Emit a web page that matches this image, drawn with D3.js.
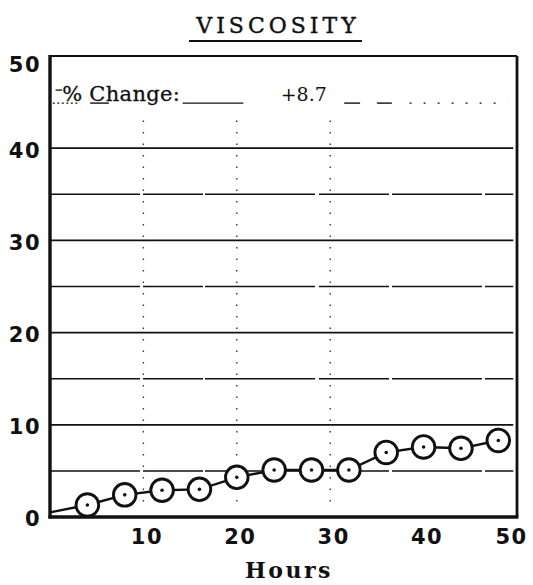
<!DOCTYPE html>
<html>
<head>
<meta charset="utf-8">
<script src="https://cdn.jsdelivr.net/npm/d3@7/dist/d3.min.js"></script>
<style>
  html, body { margin: 0; padding: 0; background: #fff; }
  svg { display: block; }
</style>
</head>
<body>
<div id="chart"></div>
<script>
// Viscosity measurements over the test period
const hours     = [0, 4, 8, 12, 16, 20, 24, 28, 32, 36, 40, 44, 48];
const viscosity = [0.5, 1.3, 2.4, 2.9, 3.0, 4.3, 5.1, 5.1, 5.1, 7.0, 7.6, 7.45, 8.3];
const markedFrom = 1;               // the first reading is the origin, unmarked
const xTicks = [10, 20, 30, 40, 50];
const yTicks = [0, 10, 20, 30, 40, 50];
const gridMajor = [10, 20, 30, 40];
const gridMinor = [5, 15, 25, 35];
const gridDotted = [10, 20, 30];
const titleText = "VISCOSITY";
const xLabel = "Hours";
const changeLabel = "% Change:";
const changeValue = "+8.7";

const W = 533, H = 585;
const svg = d3.select("#chart").append("svg")
  .attr("width", W).attr("height", H);

const x = d3.scaleLinear().domain([0, 50]).range([50, 517]);
const y = d3.scaleLinear().domain([0, 50]).range([517, 56]);

const ink = "#111";
const serif = "'DejaVu Serif', serif";
const sans = "'DejaVu Sans', sans-serif";

// Title with underline
svg.append("text")
  .attr("x", 278).attr("y", 33)
  .attr("text-anchor", "middle")
  .attr("font-family", serif)
  .attr("font-size", 22)
  .attr("letter-spacing", 4)
  .attr("stroke", ink).attr("stroke-width", 0.4)
  .attr("fill", ink)
  .text(titleText);
svg.append("line")
  .attr("x1", 189).attr("x2", 362)
  .attr("y1", 41).attr("y2", 41)
  .attr("stroke", ink).attr("stroke-width", 2);

// Dotted vertical guides
svg.append("g").selectAll("line").data(gridDotted).join("line")
  .attr("x1", d => x(d)).attr("x2", d => x(d))
  .attr("y1", y(43)).attr("y2", y(1.5))
  .attr("stroke", "#333").attr("stroke-width", 1.4)
  .attr("stroke-dasharray", "1.5,10");

// Horizontal grid lines
svg.append("g").selectAll("line").data(gridMajor).join("line")
  .attr("x1", x(0)).attr("x2", x(49.6))
  .attr("y1", d => y(d)).attr("y2", d => y(d))
  .attr("stroke", ink).attr("stroke-width", 1.7);
svg.append("g").selectAll("line").data(gridMinor).join("line")
  .attr("x1", x(0)).attr("x2", x(49.6))
  .attr("y1", d => y(d)).attr("y2", d => y(d))
  .attr("stroke", ink).attr("stroke-width", 1.5)
  .attr("stroke-dasharray", "90,3,60,2,110,4,70,3");

// The 45 line carries the change annotation
const y45 = y(45) + 1;
const seg = (a, b, dash, w) => svg.append("line")
  .attr("x1", x(a)).attr("x2", x(b))
  .attr("y1", y45).attr("y2", y45)
  .attr("stroke", ink).attr("stroke-width", w || 1.4)
  .attr("stroke-dasharray", dash || null);
seg(0.3, 3.2, "2,2.5", 1.2);
seg(4.3, 6.3);
seg(14.2, 20.7);
seg(31.5, 33.2);
seg(35.0, 36.6);
seg(38.5, 49.0, "2,12", 1.2);
svg.append("line")
  .attr("x1", x(0.6)).attr("x2", x(1.3))
  .attr("y1", y(46.3)).attr("y2", y(46.3))
  .attr("stroke", ink).attr("stroke-width", 1.3);
svg.append("text")
  .attr("x", x(1.3)).attr("y", y(45) - 1)
  .attr("font-family", serif)
  .attr("font-size", 21)
  .attr("letter-spacing", 0.3)
  .attr("stroke", ink).attr("stroke-width", 0.3)
  .attr("fill", ink)
  .text(changeLabel);
svg.append("text")
  .attr("x", x(24.7)).attr("y", y(45) - 1)
  .attr("font-family", serif)
  .attr("font-size", 19)
  .attr("fill", ink)
  .text(changeValue);

// Data line and markers
const pts = hours.map((h, i) => ({ h, v: viscosity[i] }));
svg.append("path")
  .datum(pts)
  .attr("fill", "none")
  .attr("stroke", ink)
  .attr("stroke-width", 2.4)
  .attr("d", d3.line().x(d => x(d.h)).y(d => y(d.v)));

const marks = svg.append("g").selectAll("g").data(pts.slice(markedFrom)).join("g")
  .attr("transform", d => `translate(${x(d.h)},${y(d.v)})`);
marks.append("circle").attr("r", 11.3)
  .attr("fill", "#fff").attr("stroke", ink).attr("stroke-width", 2.9);
marks.append("circle").attr("r", 1.8).attr("fill", ink);

// Frame: heavier on the left and bottom
const frame = svg.append("g").attr("stroke", ink).attr("fill", "none");
frame.append("line").attr("x1", x(0)).attr("x2", x(50)).attr("y1", y(50)).attr("y2", y(50)).attr("stroke-width", 2.2);
frame.append("line").attr("x1", x(50)).attr("x2", x(50)).attr("y1", y(50)).attr("y2", y(0)).attr("stroke-width", 2.8);
frame.append("line").attr("x1", x(0)).attr("x2", x(0)).attr("y1", y(50) - 1).attr("y2", y(0) + 1.5).attr("stroke-width", 3.4);
frame.append("line").attr("x1", x(0) - 1.5).attr("x2", x(50) + 1.4).attr("y1", y(0)).attr("y2", y(0)).attr("stroke-width", 3.4);

// Axes (labels only; the frame carries the lines)
const yAxis = svg.append("g")
  .attr("transform", `translate(${x(0)},0)`)
  .call(d3.axisLeft(y).tickValues(yTicks).tickSize(0).tickPadding(9));
yAxis.select(".domain").remove();
yAxis.selectAll("text")
  .attr("font-family", sans)
  .attr("font-weight", "bold")
  .attr("font-size", 21)
  .attr("letter-spacing", 1.5)
  .attr("fill", ink)
  .attr("dy", d => d === 50 ? "0.72em" : "0.42em");

const xAxis = svg.append("g")
  .attr("transform", `translate(0,${y(0)})`)
  .call(d3.axisBottom(x).tickValues(xTicks).tickSize(0).tickPadding(12));
xAxis.select(".domain").remove();
xAxis.selectAll("text")
  .attr("font-family", sans)
  .attr("font-weight", "bold")
  .attr("font-size", 21)
  .attr("letter-spacing", 1.5)
  .attr("fill", ink)
  .attr("dx", d => d === 50 ? -6 : 3);

svg.append("text")
  .attr("x", 289).attr("y", 578)
  .attr("text-anchor", "middle")
  .attr("font-family", serif)
  .attr("font-weight", "bold")
  .attr("font-size", 22)
  .attr("letter-spacing", 2.5)
  .attr("fill", ink)
  .text(xLabel);
</script>
</body>
</html>
